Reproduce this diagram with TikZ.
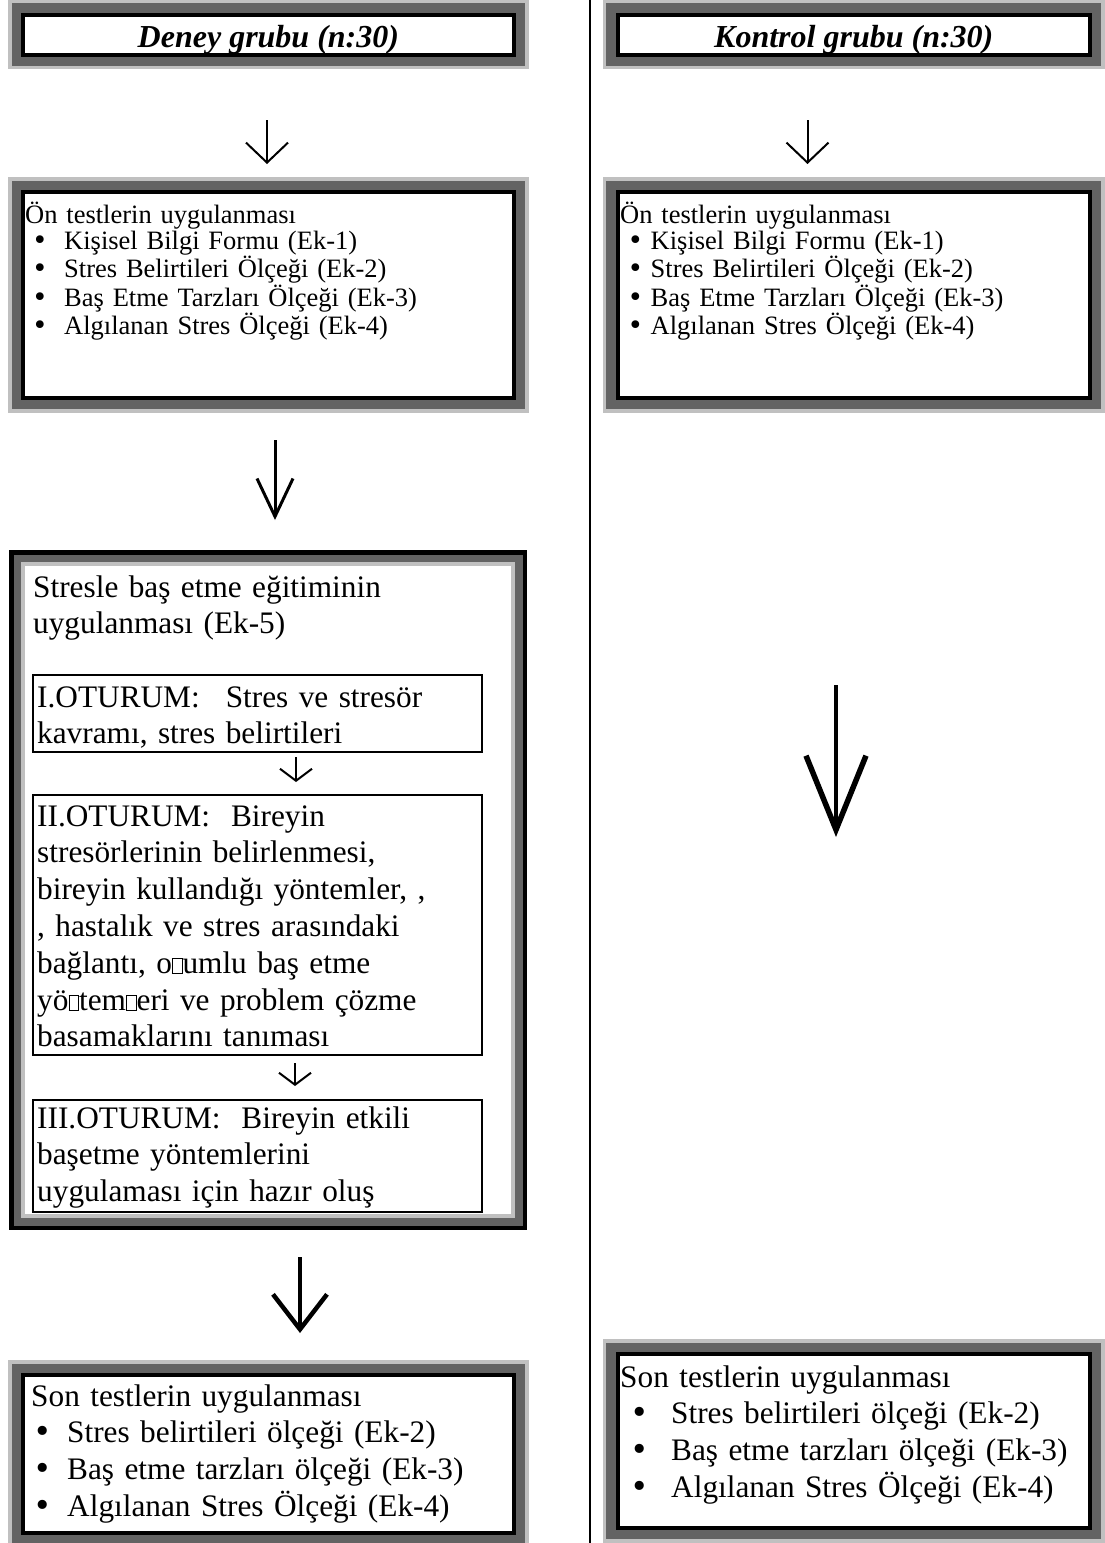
\documentclass[tikz,border=0pt]{standalone}
\usepackage{fontspec}
\setmainfont{Liberation Serif}
\newfontfamily\dotfont{DejaVu Sans}
\usepackage{xcolor}
\definecolor{bandgrey}{RGB}{99, 99, 99}
\definecolor{rimgrey}{RGB}{192, 192, 192}
\usepackage{tikz}
\usetikzlibrary{arrows.meta, positioning, calc, backgrounds, fit}
\tikzstyle{panel} = [rectangle, draw=black, line width=4pt, fill=white, inner sep=0pt, outer sep=0pt]
\tikzstyle{frame} = [rectangle, draw=rimgrey, line width=3.5pt, fill=bandgrey, inner sep=13pt]
\tikzstyle{bigframe} = [rectangle, draw=black, line width=4.5pt, fill=bandgrey, inner sep=0pt, outer sep=0pt]
\tikzstyle{innerframe} = [rectangle, draw=rimgrey, line width=3.6pt, fill=white, inner sep=0pt, outer sep=0pt]
\tikzstyle{session} = [rectangle, draw=black, line width=1.6pt, fill=white, inner sep=0pt, outer sep=0pt]
\tikzstyle{heading} = [anchor=base, inner sep=0pt, font={\fontsize{32}{36.8}\selectfont\bfseries\itshape}]
\tikzstyle{smalltext} = [anchor=base west, inner sep=0pt, text width=460pt, align=left, font={\fontsize{26.5}{26.8}\selectfont}]
\tikzstyle{bigtext} = [anchor=base west, inner sep=0pt, text width=460pt, align=left, font={\fontsize{31.3}{36.8}\selectfont}]
\tikzstyle{arrow} = [line width=2pt, -{Straight Barb[length=20pt, width=42pt]}]
\tikzstyle{longarrow} = [line width=3pt, -{Straight Barb[length=38pt, width=36pt]}]
\tikzstyle{postarrow} = [line width=3.5pt, -{Straight Barb[length=35pt, width=54pt, line width=4.5pt]}]
\tikzstyle{steparrow} = [line width=2pt, -{Straight Barb[length=12pt, width=32pt]}]
\tikzstyle{bigarrow} = [line width=3.5pt, -{Straight Barb[length=74pt, width=60pt, line width=5.5pt]}]
\newcommand{\nochar}{{\setlength{\fboxsep}{0pt}\setlength{\fboxrule}{0.8pt}\fbox{\rule{0pt}{14pt}\hspace{9pt}}}}
\newcommand{\dotmark}{{\dotfont •}}

\begin{document}
\begin{tikzpicture}[x=1pt, y=-1pt]
    \useasboundingbox (0,0) rectangle (1105,1543);

    % column divider
    \coordinate (divtop) at (590,0);
    \coordinate (divbot) at (590,1543);
    \draw[line width=2.5pt] (divtop) -- (divbot);

    % group titles
    \node[panel, minimum width=491pt, minimum height=40pt] (deney) at (268.4,34.7) {};
    \node[heading] (deneyT) at (268.4,47) {Deney grubu (n:30)};
    \node[panel, minimum width=472.4pt, minimum height=40pt] (kontrol) at (853.8,34.7) {};
    \node[heading] (kontrolT) at (853.8,47) {Kontrol grubu (n:30)};

    % pre-tests
    \node[panel, minimum width=491pt, minimum height=206pt] (onL) at (268.4,295) {};
    \node[smalltext] (onLT) at (25,223) {Ön testlerin uygulanması\\
        \hspace*{7pt}\makebox[32pt][l]{\dotmark}Kişisel Bilgi Formu (Ek-1)\\
        \hspace*{7pt}\makebox[32pt][l]{\dotmark}Stres Belirtileri Ölçeği (Ek-2)\\
        \hspace*{7pt}\makebox[32pt][l]{\dotmark}Baş Etme Tarzları Ölçeği (Ek-3)\\
        \hspace*{7pt}\makebox[32pt][l]{\dotmark}Algılanan Stres Ölçeği (Ek-4)};
    \node[panel, minimum width=472.4pt, minimum height=206pt] (onR) at (853.8,295) {};
    \node[smalltext] (onRT) at (620,223) {Ön testlerin uygulanması\\
        \hspace*{7.5pt}\makebox[23pt][l]{\dotmark}Kişisel Bilgi Formu (Ek-1)\\
        \hspace*{7.5pt}\makebox[23pt][l]{\dotmark}Stres Belirtileri Ölçeği (Ek-2)\\
        \hspace*{7.5pt}\makebox[23pt][l]{\dotmark}Baş Etme Tarzları Ölçeği (Ek-3)\\
        \hspace*{7.5pt}\makebox[23pt][l]{\dotmark}Algılanan Stres Ölçeği (Ek-4)};

    % training with its sessions
    \node[bigframe, minimum width=513.5pt, minimum height=675.5pt] (egitim) at (268,890) {};
    \node[innerframe, minimum width=489.6pt, minimum height=651.5pt] (egitimIc) at (egitim.center) {};
    \node[bigtext] (egitimT) at (33,597) {Stresle baş etme eğitiminin\\uygulanması (Ek-5)};

    \node[session, minimum width=449pt, minimum height=77pt] (otr1) at (257.5,713.5) {};
    \node[bigtext] (otr1T) at (37,707) {I.OTURUM:\hspace{26pt}Stres ve stresör\\kavramı, stres belirtileri};
    \node[session, minimum width=449pt, minimum height=260pt] (otr2) at (257.5,925) {};
    \node[bigtext] (otr2T) at (37,826) {II.OTURUM:\ \ Bireyin\\
        stresörlerinin belirlenmesi,\\
        bireyin kullandığı yöntemler, ,\\
        , hastalık ve stres arasındaki\\
        bağlantı, o\nochar umlu baş etme\\
        yö\nochar tem\nochar eri ve problem çözme\\
        basamaklarını tanıması};
    \node[session, minimum width=449pt, minimum height=112pt] (otr3) at (257.5,1156) {};
    \node[bigtext] (otr3T) at (37,1128) {III.OTURUM:\ \ Bireyin etkili\\
        başetme yöntemlerini\\
        uygulaması için hazır oluş};

    % post-tests
    \node[panel, minimum width=491pt, minimum height=158pt] (sonL) at (268.4,1454) {};
    \node[bigtext] (sonLT) at (31,1406) {Son testlerin uygulanması\\
        \hspace*{2pt}\makebox[34pt][l]{\dotmark}Stres belirtileri ölçeği (Ek-2)\\
        \hspace*{2pt}\makebox[34pt][l]{\dotmark}Baş etme tarzları ölçeği (Ek-3)\\
        \hspace*{2pt}\makebox[34pt][l]{\dotmark}Algılanan Stres Ölçeği (Ek-4)};
    \node[panel, minimum width=472.4pt, minimum height=174pt] (sonR) at (853.8,1441) {};
    \node[bigtext] (sonRT) at (620,1387) {Son testlerin uygulanması\\
        \hspace*{10pt}\makebox[41pt][l]{\dotmark}Stres belirtileri ölçeği (Ek-2)\\
        \hspace*{10pt}\makebox[41pt][l]{\dotmark}Baş etme tarzları ölçeği (Ek-3)\\
        \hspace*{10pt}\makebox[41pt][l]{\dotmark}Algılanan Stres Ölçeği (Ek-4)};

    % grey frames behind the panels
    \begin{scope}[on background layer]
        \foreach \pname in {deney, kontrol, onL, onR, sonL, sonR}
            \node[frame, fit=(\pname)] (\pname-frame) {};
    \end{scope}

    % arrows
    \coordinate (a1Ls) at (267,120);   \coordinate (a1Le) at (267,164);
    \coordinate (a1Rs) at (807.5,120); \coordinate (a1Re) at (807.5,164);
    \coordinate (a2s) at (275,440);    \coordinate (a2e) at (275,520);
    \coordinate (s1s) at (296,757);    \coordinate (s1e) at (296,782);
    \coordinate (s2s) at (295,1063);   \coordinate (s2e) at (295,1086);
    \coordinate (a3s) at (300,1257);   \coordinate (a3e) at (300,1333);
    \coordinate (aRs) at (836,685);    \coordinate (aRe) at (836,837);

    \draw[arrow] (a1Ls) -- (a1Le);
    \draw[arrow] (a1Rs) -- (a1Re);
    \draw[longarrow] (a2s) -- (a2e);
    \draw[steparrow] (s1s) -- (s1e);
    \draw[steparrow] (s2s) -- (s2e);
    \draw[postarrow] (a3s) -- (a3e);
    \draw[bigarrow] (aRs) -- (aRe);
\end{tikzpicture}
\end{document}
